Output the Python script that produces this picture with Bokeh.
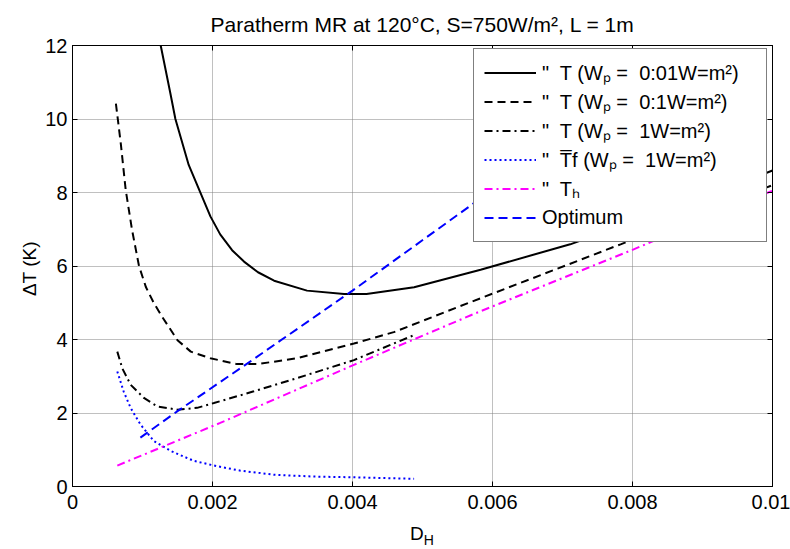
from bokeh.plotting import figure
from bokeh.models import (Range1d, FixedTicker, LinearAxis, NumeralTickFormatter,
                          Legend, LegendItem, Div)
from bokeh.layouts import column
from bokeh.embed import file_html
from bokeh.resources import INLINE

# ---- data ----
x_ticks = [0, 0.002, 0.004, 0.006, 0.008, 0.01]
y_ticks = [0, 2, 4, 6, 8, 10, 12]

dh_wp001 = [0.00118, 0.00126, 0.0014, 0.00147, 0.00166, 0.00183, 0.00197, 0.00211, 0.00228,
            0.00245, 0.00265, 0.00288, 0.00335, 0.00388, 0.0042, 0.00488, 0.00583, 0.00711,
            0.008, 0.009, 0.01]
dt_wp001 = [13.0, 12.0, 10.68, 10.0, 8.75, 7.98, 7.35, 6.86, 6.43,
            6.12, 5.83, 5.6, 5.33, 5.24, 5.24, 5.42, 5.9, 6.59,
            7.2, 7.85, 8.6]

dh_wp01 = [0.00062, 0.00069, 0.00076, 0.00085, 0.00095, 0.00105, 0.00116, 0.00128, 0.0015,
           0.00169, 0.00197, 0.00235, 0.00264, 0.00321, 0.00402, 0.00459, 0.00569, 0.00783,
           0.01]
dt_wp01 = [10.42, 9.33, 8.07, 6.99, 6.0, 5.42, 5.0, 4.62, 3.98,
           3.67, 3.49, 3.33, 3.33, 3.49, 3.89, 4.2, 5.02, 6.59,
           8.2]

dh_wp1 = [0.00064, 0.00071, 0.00083, 0.00102, 0.00121, 0.0015, 0.00178, 0.00202, 0.00259,
          0.00321, 0.00402, 0.00488]
dt_wp1 = [3.67, 3.22, 2.77, 2.41, 2.18, 2.09, 2.14, 2.27, 2.59, 2.95, 3.44, 4.12]

dh_tf = [0.00064, 0.00073, 0.00083, 0.00097, 0.00116, 0.0014, 0.00173, 0.00207, 0.0024,
         0.00288, 0.00345, 0.00402, 0.00488]
dt_tf = [3.13, 2.59, 2.14, 1.69, 1.24, 0.97, 0.7, 0.55, 0.43, 0.32, 0.27, 0.25, 0.21]

dh_th = [0.00064, 0.00211, 0.00402, 0.00569, 0.008, 0.01]
dt_th = [0.57, 1.73, 3.31, 4.66, 6.44, 8.05]

dh_opt = [0.00097, 0.0015, 0.0025, 0.004, 0.0058, 0.0062]
dt_opt = [1.33, 2.05, 3.35, 5.33, 7.8, 8.33]

labels = ['"  T (W\u209a =  0:01W=m\u00b2)',
          '"  T (W\u209a =  0:1W=m\u00b2)',
          '"  T (W\u209a =  1W=m\u00b2)',
          '"  T\u0305f (W\u209a =  1W=m\u00b2)',
          '"  T\u2095',
          'Optimum']

FONT = "Liberation Sans"

p = figure(width=790, height=520, output_backend="svg", toolbar_location=None,
           x_range=Range1d(0, 0.01), y_range=Range1d(0, 12),
           min_border_left=72, min_border_right=18, min_border_top=40, min_border_bottom=34,
           background_fill_color="white", border_fill_color="white")

p.title.text = "Paratherm MR at 120\u00b0C, S=750W/m\u00b2, L = 1m"
p.title.align = "center"
p.title.text_font = FONT
p.title.text_font_size = "21px"
p.title.text_font_style = "normal"
p.title.text_color = "black"
p.title.standoff = 20

p.outline_line_color = "black"
p.outline_line_width = 1

xt = FixedTicker(ticks=x_ticks)
yt = FixedTicker(ticks=y_ticks)

for ax in [p.xaxis[0], p.yaxis[0]]:
    ax.major_tick_in = 5
    ax.major_tick_out = 0
    ax.minor_tick_in = 0
    ax.minor_tick_out = 0
    ax.major_label_text_font = FONT
    ax.major_label_text_font_size = "20px"
    ax.major_label_text_color = "black"
    ax.axis_line_color = "black"
    ax.major_tick_line_color = "black"
    ax.axis_label_text_font = FONT
    ax.axis_label_text_font_style = "normal"
    ax.axis_label_text_font_size = "19px"
    ax.axis_label_text_color = "black"

p.xaxis.ticker = xt
p.yaxis.ticker = yt
p.xaxis.formatter = NumeralTickFormatter(format="0.[000]")
p.xaxis.major_label_standoff = 8
p.yaxis.major_label_standoff = 5
p.yaxis.axis_label = "\u0394T  (K)"
p.yaxis.axis_label_standoff = 2

for loc, tk in [("right", yt), ("above", xt)]:
    a = LinearAxis(ticker=tk, major_tick_in=5, major_tick_out=0, minor_tick_in=0,
                   minor_tick_out=0, major_label_text_font_size="1px",
                   major_label_text_color=None,
                   major_label_standoff=0, axis_line_color="black")
    p.add_layout(a, loc)

p.xgrid.ticker = xt
p.ygrid.ticker = yt
for g in [p.xgrid[0], p.ygrid[0]]:
    g.grid_line_color = "#808080"
    g.grid_line_dash = "1 1"
    g.grid_line_width = 1

r1 = p.line(dh_wp001, dt_wp001, line_color="black", line_width=2)
r2 = p.line(dh_wp01, dt_wp01, line_color="black", line_width=2, line_dash="8 5")
r3 = p.line(dh_wp1, dt_wp1, line_color="black", line_width=2, line_dash="8 4 2 4")
r4 = p.line(dh_tf, dt_tf, line_color="#0000ff", line_width=2, line_dash="2 3")
r5 = p.line(dh_th, dt_th, line_color="#ff00ff", line_width=2, line_dash="8 4 2 4")
r6 = p.line(dh_opt, dt_opt, line_color="#0000ff", line_width=2, line_dash="9 5")

legend = Legend(items=[LegendItem(label=l, renderers=[r]) for l, r in
                       zip(labels, [r1, r2, r3, r4, r5, r6])],
                location=(401, 244), margin=0, padding=10, spacing=2,
                glyph_width=52, glyph_height=27, label_height=27, label_width=214,
                label_standoff=6,
                label_text_font=FONT, label_text_font_size="20px", label_text_color="black",
                border_line_color="black", border_line_width=1,
                background_fill_color="white", background_fill_alpha=1.0)
p.add_layout(legend)

# x-axis title "D" with subscript "H"
xlabel = Div(text='D<sub style="font-size:14px">H</sub>', width=700, height=29,
             margin=(4, 0, 0, 72),
             styles={"font-family": "Liberation Sans", "font-size": "19px",
                     "text-align": "center", "line-height": "1", "color": "black",
                     "width": "700px"})

layout = column(p, xlabel, spacing=0)

open("out.html", "w").write(file_html(layout, INLINE))
